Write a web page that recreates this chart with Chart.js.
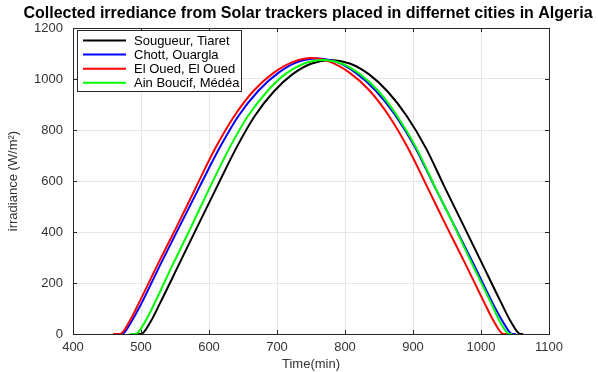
<!DOCTYPE html>
<html><head><meta charset="utf-8">
<script src="https://cdn.jsdelivr.net/npm/chart.js@4/dist/chart.umd.min.js"></script>
<style>html,body{margin:0;padding:0;background:#fff}</style>
</head><body>
<canvas id="c" width="598" height="372"></canvas>
<script>
// ---- data ----
const chartTitle = 'Collected irrediance from Solar trackers placed in differnet cities in Algeria';
const seriesNames = ['Sougueur, Tiaret', 'Chott, Ouargla', 'El Oued, El Oued', 'Ain Boucif, Médéa'];
const seriesColors = ['#000000', '#0000ff', '#ff0000', '#00ff00'];
const xTicks = [400, 500, 600, 700, 800, 900, 1000, 1100];
const yTicks = [0, 200, 400, 600, 800, 1000, 1200];

const timeSougueur = [490, 500, 514, 528, 556, 584, 612, 640, 667, 695, 723, 751, 779, 807, 835, 863, 891, 919, 946, 974, 1002, 1030, 1044, 1058, 1062];
const irrSougueur  = [0, 0, 48, 121, 274, 427, 579, 729, 854, 950, 1019, 1061, 1075, 1061, 1019, 950, 854, 729, 579, 427, 274, 121, 48, 0, 0];

const timeChott = [463, 472, 486, 501, 529, 558, 587, 616, 644, 673, 702, 730, 759, 788, 816, 845, 874, 903, 931, 960, 989, 1017, 1032, 1046, 1051];
const irrChott  = [0, 0, 49, 122, 275, 429, 582, 732, 858, 955, 1024, 1066, 1080, 1066, 1024, 955, 858, 732, 582, 429, 275, 122, 49, 0, 0];

const timeElOued = [459, 469, 483, 497, 525, 554, 582, 610, 638, 666, 695, 723, 751, 779, 807, 836, 864, 892, 920, 948, 977, 1005, 1019, 1033, 1038];
const irrElOued  = [0, 0, 49, 122, 275, 429, 582, 732, 858, 955, 1024, 1066, 1082, 1066, 1024, 955, 858, 732, 582, 429, 275, 122, 49, 0, 0];

const timeAinBoucif = [484, 492, 506, 520, 547, 575, 602, 630, 657, 685, 712, 740, 767, 795, 822, 850, 877, 905, 932, 960, 987, 1015, 1028, 1042, 1046];
const irrAinBoucif  = [0, 0, 48, 121, 274, 427, 579, 729, 854, 950, 1019, 1061, 1075, 1061, 1019, 950, 854, 729, 579, 427, 274, 121, 48, 0, 0];

const seriesTimes = [timeSougueur, timeChott, timeElOued, timeAinBoucif];
const seriesValues = [irrSougueur, irrChott, irrElOued, irrAinBoucif];

const FONT = 'Arial, "Liberation Sans", Helvetica, sans-serif';
const AXC = '#262626';
const TXT = '#333333';

const datasets = seriesNames.map((name, i) => ({
  label: name,
  data: seriesTimes[i].map((t, k) => ({x: t, y: seriesValues[i][k]})),
  borderColor: seriesColors[i],
  backgroundColor: seriesColors[i],
  borderWidth: 2,
  pointRadius: 0,
  cubicInterpolationMode: 'monotone',
  fill: false,
  order: seriesNames.length - i
}));

const boxPlugin = {
  id: 'boxPlugin',
  afterDraw(chart) {
    const ctx = chart.ctx;
    const a = chart.chartArea;
    const xs = chart.scales.x, ys = chart.scales.y;
    ctx.save();
    // title
    ctx.fillStyle = '#000000';
    ctx.font = 'bold 16px ' + FONT;
    ctx.textAlign = 'center';
    ctx.textBaseline = 'middle';
    ctx.fillText(chartTitle, 308, 14);

    ctx.strokeStyle = AXC;
    ctx.lineWidth = 1;
    ctx.strokeRect(Math.round(a.left) + 0.5, Math.round(a.top) + 0.5, Math.round(a.right - a.left), Math.round(a.bottom - a.top));
    ctx.beginPath();
    const tl = 4;
    xTicks.forEach(v => {
      const px = Math.round(xs.getPixelForValue(v)) + 0.5;
      ctx.moveTo(px, a.bottom); ctx.lineTo(px, a.bottom - tl);
      ctx.moveTo(px, a.top); ctx.lineTo(px, a.top + tl);
    });
    yTicks.forEach(v => {
      const py = Math.round(ys.getPixelForValue(v)) + 0.5;
      ctx.moveTo(a.left, py); ctx.lineTo(a.left + tl, py);
      ctx.moveTo(a.right, py); ctx.lineTo(a.right - tl, py);
    });
    ctx.stroke();

    // legend box
    const lx = 77.5, ly = 30.5, lw = 164, lh = 61;
    ctx.fillStyle = '#ffffff';
    ctx.fillRect(lx, ly, lw, lh);
    ctx.strokeStyle = AXC;
    ctx.strokeRect(lx, ly, lw, lh);
    ctx.font = '13px ' + FONT;
    ctx.textBaseline = 'middle';
    ctx.textAlign = 'left';
    chart.data.datasets.forEach((ds, i) => {
      const y = 40.5 + i * 14.1;
      ctx.strokeStyle = ds.borderColor;
      ctx.lineWidth = 2;
      ctx.beginPath();
      ctx.moveTo(83, y); ctx.lineTo(126, y);
      ctx.stroke();
      ctx.fillStyle = '#000000';
      ctx.fillText(ds.label, 134, y + 0.5);
    });
    ctx.restore();
  }
};

new Chart(document.getElementById('c'), {
  type: 'line',
  data: { datasets },
  plugins: [boxPlugin],
  options: {
    responsive: false,
    animation: false,
    devicePixelRatio: 1,
    layout: { padding: { left: 0, right: 49, top: 28, bottom: 0 } },
    plugins: {
      legend: { display: false },
      tooltip: { enabled: false },
      title: { display: false }
    },
    scales: {
      x: {
        type: 'linear',
        min: 400, max: 1100,
        afterBuildTicks: s => { s.ticks = xTicks.map(v => ({value: v})); },
        afterFit: s => { s.height = 38; },
        grid: { color: '#e6e6e6', drawTicks: false, lineWidth: 1 },
        border: { display: false },
        ticks: { color: TXT, font: { family: FONT, size: 13 }, padding: 6, maxRotation: 0, callback: v => String(v) },
        title: { display: true, text: 'Time(min)', color: TXT, font: { family: FONT, size: 13 }, padding: { top: 1, bottom: 0 } }
      },
      y: {
        min: 0, max: 1200,
        afterBuildTicks: s => { s.ticks = yTicks.map(v => ({value: v})); },
        afterFit: s => { s.width = 73; },
        grid: { color: '#e6e6e6', drawTicks: false, lineWidth: 1 },
        border: { display: false },
        ticks: { color: TXT, font: { family: FONT, size: 13 }, padding: 10, callback: v => String(v) },
        title: { display: true, text: 'irradiance (W/m\u00B2)', color: TXT, font: { family: FONT, size: 13 }, padding: { top: 6, bottom: 0 } }
      }
    }
  }
});
</script>
</body></html>
